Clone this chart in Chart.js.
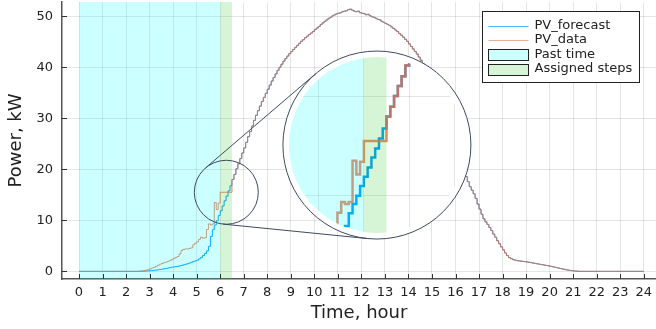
<!DOCTYPE html>
<html>
<head>
<meta charset="utf-8">
<script src="https://cdn.jsdelivr.net/npm/chart.js@4.4.1/dist/chart.umd.min.js"></script>
<style>
  html, body { margin: 0; padding: 0; background: #fff; }
  #wrap { position: relative; width: 656px; height: 329px; }
  #chart { position: absolute; left: 0; top: 0; }
  #zoom { position: absolute; clip-path: circle(88px at 90px 90px); }
</style>
</head>
<body>
<div id="wrap">
  <canvas id="chart" width="656" height="329"></canvas>
  <canvas id="zoom" width="180" height="180"></canvas>
</div>
<script>
'use strict';

// measured PV power, kW, one value every 5 minutes (one row per hour), last value is 24:00
const pvData = [
  0, 0, 0, 0, 0, 0, 0, 0, 0, 0, 0, 0,
  0, 0, 0, 0, 0, 0, 0, 0, 0, 0, 0, 0,
  0, 0, 0, 0, 0, 0, 0.02, 0.05, 0.1, 0.15, 0.25, 0.35,
  0.5, 0.65, 0.8, 1.0, 1.2, 1.4, 1.55, 1.7, 1.8, 1.95, 2.1, 2.3,
  2.5, 2.7, 2.9, 3.4, 4.1, 4.3, 4.4, 4.4, 4.5, 4.6, 5.2, 5.5,
  5.8, 6.3, 6.7, 6.5, 6.6, 8.2, 9.3, 9.1, 9.3, 13.5, 12.1, 13.4,
  15.5, 15.5, 15.5, 15.5, 15.5, 15.5, 18.0, 19.0, 20.1, 21.1, 22.1, 23.2,
  24.2, 25.3, 26.4, 27.4, 28.5, 29.6, 30.6, 31.5, 32.4, 33.3, 34.1, 34.9,
  35.7, 36.5, 37.3, 38.0, 38.7, 39.4, 40.0, 40.6, 41.2, 41.7, 42.2, 42.7,
  43.1, 43.5, 43.9, 44.3, 44.7, 45.1, 45.4, 45.8, 46.1, 46.4, 46.7, 47.0,
  47.4, 47.7, 48.0, 48.4, 48.7, 49.0, 49.3, 49.6, 49.8, 50.1, 50.3, 50.5,
  50.6, 50.7, 50.9, 51.0, 51.1, 51.3, 51.4, 51.2, 51.0, 50.9, 51.0, 50.7,
  50.6, 50.5, 50.3, 50.4, 50.1, 49.9, 49.8, 49.6, 49.4, 49.3, 49.0, 48.8,
  48.6, 48.4, 48.2, 47.9, 47.6, 47.3, 47.0, 46.6, 46.3, 45.9, 45.5, 45.1,
  44.6, 44.1, 43.6, 43.1, 42.6, 42.0, 41.4, 40.7, 40.0, 39.2, 38.4, 37.6,
  36.8, 35.9, 35.0, 34.1, 33.1, 32.1, 31.1, 30.1, 29.0, 27.9, 26.8, 25.7,
  24.6, 23.4, 22.2, 21.0, 19.8, 18.6, 17.6, 16.6, 15.9, 15.2, 14.3, 13.2,
  12.2, 11.2, 10.3, 9.7, 9.2, 8.6, 8.0, 7.3, 6.7, 6.0, 5.4, 4.8,
  4.2, 3.6, 3.1, 2.7, 2.5, 2.3, 2.2, 2.1, 2.05, 2.0, 1.95, 1.9,
  1.85, 1.78, 1.71, 1.64, 1.57, 1.5, 1.43, 1.36, 1.29, 1.22, 1.15, 1.08,
  1.0, 0.92, 0.84, 0.75, 0.66, 0.57, 0.48, 0.4, 0.32, 0.25, 0.18, 0.13,
  0.08, 0.05, 0.02, 0, 0, 0, 0, 0, 0, 0, 0, 0,
  0, 0, 0, 0, 0, 0, 0, 0, 0, 0, 0, 0,
  0, 0, 0, 0, 0, 0, 0, 0, 0, 0, 0, 0,
  0
];

// forecast up to 6:30, after that the forecast lies on the data
const forecastHead = [
  0, 0, 0, 0, 0, 0, 0, 0, 0, 0, 0, 0,
  0, 0, 0, 0, 0, 0, 0, 0, 0, 0, 0, 0,
  0, 0, 0, 0, 0, 0, 0, 0.01, 0.02, 0.04, 0.06, 0.09,
  0.12, 0.16, 0.2, 0.25, 0.3, 0.36, 0.42, 0.5, 0.57, 0.65, 0.73, 0.82,
  0.85, 0.92, 1.0, 1.08, 1.17, 1.27, 1.38, 1.5, 1.63, 1.77, 1.92, 2.05,
  2.2, 2.45, 2.75, 3.1, 3.5, 4.0, 4.9, 6.85, 8.14, 9.08, 9.93, 10.92,
  11.86, 12.82, 13.83, 14.75, 15.77, 16.78
];

const seriesNames = ['PV_forecast', 'PV_data'];
const spanNames = ['Past time', 'Assigned steps'];
const pastTime = [0, 6];
const assignedSteps = [6, 6.5];

const xTicks = [0, 1, 2, 3, 4, 5, 6, 7, 8, 9, 10, 11, 12, 13, 14, 15, 16, 17, 18, 19, 20, 21, 22, 23, 24];
const yTicks = [0, 10, 20, 30, 40, 50];
const zoomXTicks = [5, 6, 7, 8];
const zoomYTicks = [10, 20];

// lens: small circle around (6.26 h, 15.5 kW), magnified view placed at (12.66 h, 24.76 kW)
const lensCenter = [6.26, 15.5];
const insetAt = [12.66, 24.76];
const insetCenter = [6.29, 15.1];
const magnify = 1.925;

const colors = {
  forecast: 'rgb(0, 154, 250)',
  data: 'rgba(227, 111, 71, 0.82)',
  past: 'rgba(0, 255, 255, 0.2)',
  assigned: 'rgba(50, 205, 50, 0.2)',
  lens: '#3d4b5e',
  grid: 'rgba(0, 0, 0, 0.1)',
  text: '#222'
};

Chart.defaults.font.family = "'DejaVu Sans', sans-serif";
Chart.defaults.font.size = 13;
Chart.defaults.color = colors.text;

const pvForecast = forecastHead.concat(pvData.slice(forecastHead.length));
const toPoints = vals => vals.map((v, i) => ({ x: i / 12, y: v }));

let canvasElem = document.getElementById('chart');
let zoomElem = document.getElementById('zoom');

// shaded time spans, painted over the lines
const spansPlugin = {
  id: 'spans',
  afterDatasetsDraw(chart) {
    const { ctx, chartArea: a, scales: { x } } = chart;
    ctx.save();
    ctx.beginPath();
    ctx.rect(a.left, a.top, a.width, a.height);
    ctx.clip();
    [[pastTime, colors.past], [assignedSteps, colors.assigned]].forEach(([span, c]) => {
      const x0 = x.getPixelForValue(span[0]);
      const x1 = x.getPixelForValue(span[1]);
      ctx.fillStyle = c;
      ctx.fillRect(x0, a.top, x1 - x0, a.height);
    });
    ctx.restore();
  }
};

const lensPlugin = {
  id: 'lens',
  afterDatasetsDraw(chart) {
    const { ctx, scales: { x, y } } = chart;
    const c1 = [x.getPixelForValue(lensCenter[0]), y.getPixelForValue(lensCenter[1])];
    const c2 = [x.getPixelForValue(insetAt[0]), y.getPixelForValue(insetAt[1])];
    const r1 = 32, r2 = 94;
    ctx.save();
    ctx.fillStyle = '#fff';
    ctx.strokeStyle = colors.lens;
    ctx.lineWidth = 1;
    ctx.beginPath();
    ctx.arc(c2[0], c2[1], r2, 0, Math.PI * 2);
    ctx.fill();
    ctx.stroke();
    ctx.beginPath();
    ctx.arc(c1[0], c1[1], r1, 0, Math.PI * 2);
    ctx.stroke();
    const dx = c2[0] - c1[0], dy = c2[1] - c1[1];
    const base = Math.atan2(dy, dx);
    const spread = Math.acos((r2 - r1) / Math.hypot(dx, dy));
    [base + spread, base - spread].forEach(ang => {
      const nx = Math.cos(ang), ny = Math.sin(ang);
      ctx.beginPath();
      ctx.moveTo(c1[0] - r1 * nx, c1[1] - r1 * ny);
      ctx.lineTo(c2[0] - r2 * nx, c2[1] - r2 * ny);
      ctx.stroke();
    });
    ctx.restore();
  }
};

const framePlugin = {
  id: 'frame',
  afterDraw(chart) {
    const { ctx, chartArea: a, scales: { x, y } } = chart;
    ctx.save();
    ctx.strokeStyle = '#333';
    ctx.lineWidth = 1;
    ctx.beginPath();
    xTicks.forEach(v => {
      const px = Math.round(x.getPixelForValue(v)) + 0.5;
      ctx.moveTo(px, a.bottom);
      ctx.lineTo(px, a.bottom - 5);
    });
    yTicks.forEach(v => {
      const py = Math.round(y.getPixelForValue(v)) + 0.5;
      ctx.moveTo(a.left, py);
      ctx.lineTo(a.left + 5, py);
    });
    ctx.stroke();

    // legend box
    const box = { left: a.right - 173.5, top: a.top + 9.5, w: 157, h: 71 };
    ctx.fillStyle = '#fff';
    ctx.fillRect(box.left, box.top, box.w, box.h);
    ctx.strokeStyle = '#222';
    ctx.strokeRect(box.left, box.top, box.w, box.h);
    ctx.font = "13px 'DejaVu Sans'";
    ctx.textBaseline = 'middle';
    ctx.textAlign = 'left';
    const rowY = i => box.top + 14 + i * 14.5;
    const sx0 = box.left + 6, sx1 = box.left + 46;
    [colors.forecast, colors.data].forEach((c, i) => {
      ctx.strokeStyle = c;
      ctx.globalAlpha = 0.7;
      ctx.beginPath();
      ctx.moveTo(sx0, Math.round(rowY(i)) + 0.5);
      ctx.lineTo(sx1, Math.round(rowY(i)) + 0.5);
      ctx.stroke();
      ctx.globalAlpha = 1;
      ctx.fillStyle = colors.text;
      ctx.fillText(seriesNames[i], box.left + 52, rowY(i));
    });
    [colors.past, colors.assigned].forEach((c, j) => {
      const i = j + 2;
      const top = Math.round(rowY(i) - 5.5) + 0.5;
      ctx.fillStyle = c;
      ctx.fillRect(sx0, top, sx1 - sx0, 11);
      ctx.strokeStyle = '#222';
      ctx.strokeRect(sx0, top, sx1 - sx0, 11);
      ctx.fillStyle = colors.text;
      ctx.fillText(spanNames[j], box.left + 52, rowY(i));
    });
    ctx.restore();
  }
};

function makeDatasets(width) {
  return [
    {
      label: seriesNames[0],
      data: toPoints(pvForecast),
      borderColor: colors.forecast,
      borderWidth: width,
      stepped: true,
      pointRadius: 0,
      order: 2
    },
    {
      label: seriesNames[1],
      data: toPoints(pvData),
      borderColor: colors.data,
      borderWidth: width,
      stepped: true,
      pointRadius: 0,
      order: 1
    }
  ];
}

function renderChart() {
  const config = {
    type: 'line',
    data: { datasets: makeDatasets(1) },
    options: {
      responsive: false,
      animation: false,
      devicePixelRatio: 1,
      layout: { padding: { top: 2, right: 0, bottom: 0, left: 0 } },
      plugins: { legend: { display: false }, tooltip: { enabled: false } },
      scales: {
        x: {
          type: 'linear',
          min: -0.7225,
          max: 24.52,
          afterBuildTicks: axis => { axis.ticks = xTicks.map(v => ({ value: v })); },
          afterFit: axis => { axis.height = 50; axis.paddingLeft = 0; axis.paddingRight = 0; },
          ticks: { autoSkip: false, maxRotation: 0, padding: 6, font: { size: 13 } },
          grid: { color: colors.grid, drawTicks: false },
          border: { color: '#555', width: 1.5 },
          title: { display: true, text: 'Time, hour', font: { size: 18 }, padding: { top: 0, bottom: 5 } }
        },
        y: {
          min: -1.5,
          max: 52.8,
          afterBuildTicks: axis => { axis.ticks = yTicks.map(v => ({ value: v })); },
          afterFit: axis => { axis.width = 62; axis.paddingTop = 0; axis.paddingBottom = 0; },
          ticks: { padding: 9, font: { size: 13 } },
          grid: { color: colors.grid, drawTicks: false },
          border: { color: '#555', width: 1.5 },
          title: { display: true, text: 'Power, kW', font: { size: 18 }, padding: { top: 6, bottom: 0 } }
        }
      }
    },
    plugins: [spansPlugin, lensPlugin, framePlugin]
  };

  const main = new Chart(canvasElem, config);

  // magnified view inside the big circle
  const mx = main.scales.x, my = main.scales.y;
  const cx = mx.getPixelForValue(insetAt[0]);
  const cy = my.getPixelForValue(insetAt[1]);
  zoomElem.style.left = (cx - 90) + 'px';
  zoomElem.style.top = (cy - 90) + 'px';
  const pxHour = (mx.getPixelForValue(1) - mx.getPixelForValue(0)) * magnify;
  const pxKw = (my.getPixelForValue(0) - my.getPixelForValue(1)) * magnify;
  const hx = 90 / pxHour, hy = 90 / pxKw;

  new Chart(zoomElem, {
    type: 'line',
    data: { datasets: makeDatasets(2.5) },
    options: {
      responsive: false,
      animation: false,
      devicePixelRatio: 1,
      layout: { padding: 0 },
      plugins: { legend: { display: false }, tooltip: { enabled: false } },
      scales: {
        x: {
          type: 'linear',
          min: insetCenter[0] - hx,
          max: insetCenter[0] + hx,
          afterBuildTicks: axis => { axis.ticks = zoomXTicks.map(v => ({ value: v })); },
          afterFit: axis => { axis.height = 0; },
          ticks: { display: false },
          grid: { color: colors.grid, drawTicks: false },
          border: { display: false }
        },
        y: {
          min: insetCenter[1] - hy,
          max: insetCenter[1] + hy,
          afterBuildTicks: axis => { axis.ticks = zoomYTicks.map(v => ({ value: v })); },
          afterFit: axis => { axis.width = 0; },
          ticks: { display: false },
          grid: { color: colors.grid, drawTicks: false },
          border: { display: false }
        }
      }
    },
    plugins: [spansPlugin]
  });
}

renderChart();
</script>
</body>
</html>
